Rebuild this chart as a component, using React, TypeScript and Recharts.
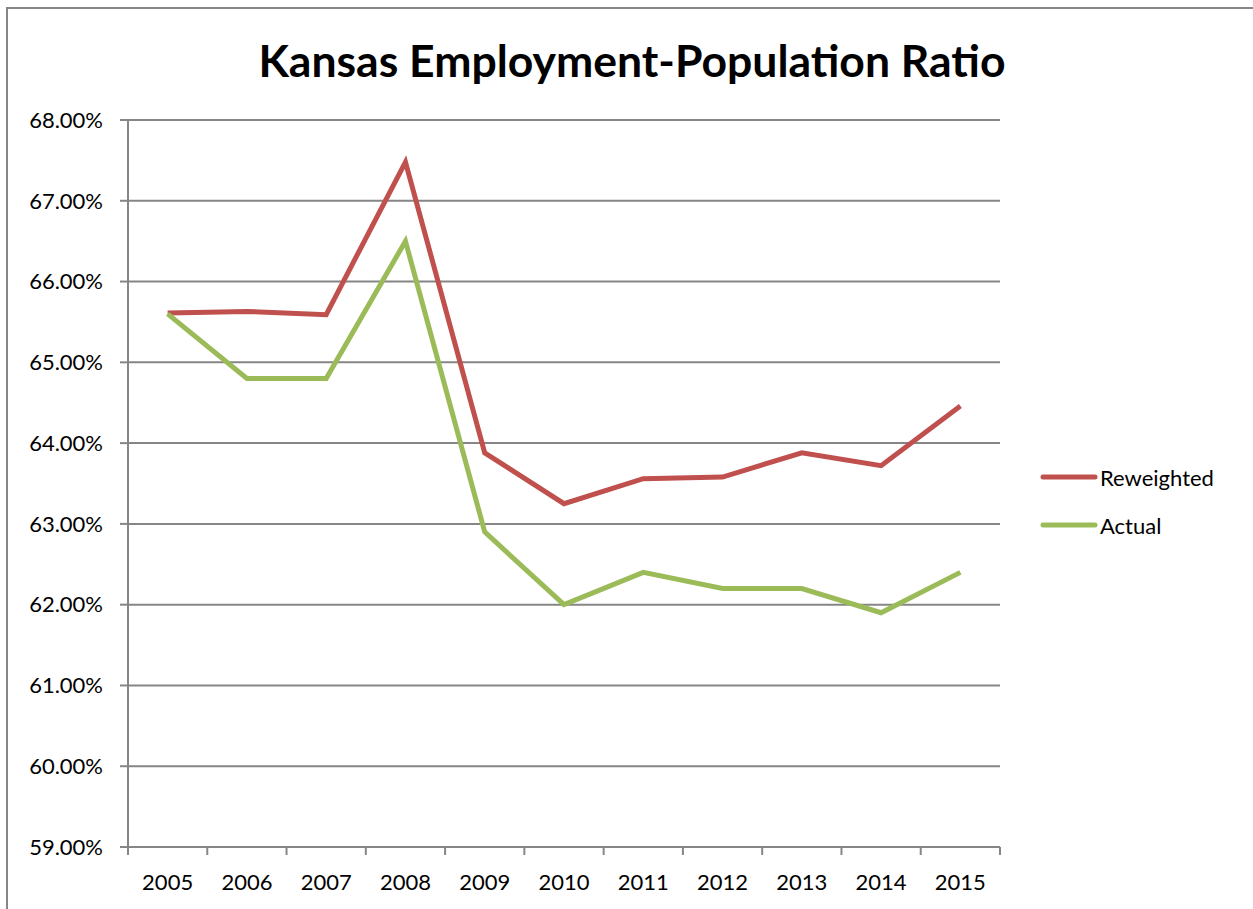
import { LineChart, Line, XAxis, YAxis, CartesianGrid } from "recharts";

const years = ["2005", "2006", "2007", "2008", "2009", "2010", "2011", "2012", "2013", "2014", "2015"];
const reweighted = [65.61, 65.63, 65.59, 67.48, 63.88, 63.25, 63.56, 63.58, 63.88, 63.72, 64.46];
const actual = [65.6, 64.8, 64.8, 66.5, 62.9, 62.0, 62.4, 62.2, 62.2, 61.9, 62.4];
const yTicks = [59, 60, 61, 62, 63, 64, 65, 66, 67, 68];
const bandEdges = [-0.5, 0.5, 1.5, 2.5, 3.5, 4.5, 5.5, 6.5, 7.5, 8.5, 9.5, 10.5];
const labelTicks = [0, 1, 2, 3, 4, 5, 6, 7, 8, 9, 10];
const seriesNames = ["Reweighted", "Actual"];
const seriesColors = ["#C0504D", "#9BBB59"];

const data = years.map((year, i) => ({
  idx: i,
  year,
  Reweighted: reweighted[i],
  Actual: actual[i],
}));

const FONT = "Lato, 'Open Sans', sans-serif";
const GRAY = "#868686";

const ChartLegend = () => (
  <div
    style={{
      position: "absolute",
      left: 1032,
      top: 444,
      fontFamily: FONT,
      fontSize: 22,
      color: "#000",
    }}
  >
    {seriesNames.map((name, i) => (
      <div key={name} style={{ display: "flex", alignItems: "center", height: 48 }}>
        <svg width={58} height={10}>
          <line x1={3} y1={5} x2={55} y2={5} stroke={seriesColors[i]} strokeWidth={5} strokeLinecap="round" />
        </svg>
        <span style={{ marginLeft: 2 }}>{name}</span>
      </div>
    ))}
  </div>
);

export default function App() {
  return (
    <div
      style={{
        position: "absolute",
        left: 6,
        top: 7,
        width: 1260,
        height: 910,
        borderLeft: `2px solid ${GRAY}`,
        borderTop: `2px solid ${GRAY}`,
        background: "#fff",
        boxSizing: "border-box",
      }}
    >
      <div
        style={{
          position: "absolute",
          left: 0,
          top: 24,
          width: 1248,
          textAlign: "center",
          fontFamily: FONT,
          fontWeight: 700,
          fontSize: 44.5,
          color: "#000",
        }}
      >
        Kansas Employment-Population Ratio
      </div>
      <LineChart
        width={1246}
        height={902}
        data={data}
        margin={{ top: 113, right: 253, bottom: 19, left: 20 }}
        style={{ position: "absolute", left: -1, top: -2 }}
      >
        <CartesianGrid vertical={false} stroke={GRAY} strokeWidth={2} />
        <XAxis
          xAxisId="edges"
          dataKey="idx"
          type="number"
          domain={[-0.5, 10.5]}
          ticks={bandEdges}
          tickFormatter={() => ""}
          tickSize={8}
          tickLine={{ stroke: GRAY, strokeWidth: 2 }}
          axisLine={{ stroke: GRAY, strokeWidth: 2 }}
          height={1}
          interval={0}
        />
        <XAxis
          xAxisId="labels"
          dataKey="idx"
          type="number"
          domain={[-0.5, 10.5]}
          ticks={labelTicks}
          tickFormatter={(v: number) => years[v]}
          tickLine={false}
          axisLine={false}
          tick={{ fill: "#000", fontSize: 22, fontFamily: FONT }}
          tickMargin={20}
          height={42}
          interval={0}
        />
        <YAxis
          domain={[59, 68]}
          ticks={yTicks}
          tickFormatter={(v: number) => `${v.toFixed(2)}%`}
          tick={{ fill: "#000", fontSize: 22, fontFamily: FONT }}
          tickSize={8}
          tickMargin={17}
          tickLine={{ stroke: GRAY, strokeWidth: 2 }}
          axisLine={{ stroke: GRAY, strokeWidth: 2 }}
          width={101}
          interval={0}
        />
        <Line
          xAxisId="edges"
          dataKey="Reweighted"
          stroke={seriesColors[0]}
          strokeWidth={5}
          dot={false}
          isAnimationActive={false}
        />
        <Line
          xAxisId="edges"
          dataKey="Actual"
          stroke={seriesColors[1]}
          strokeWidth={5}
          dot={false}
          isAnimationActive={false}
        />
      </LineChart>
      <ChartLegend />
    </div>
  );
}
